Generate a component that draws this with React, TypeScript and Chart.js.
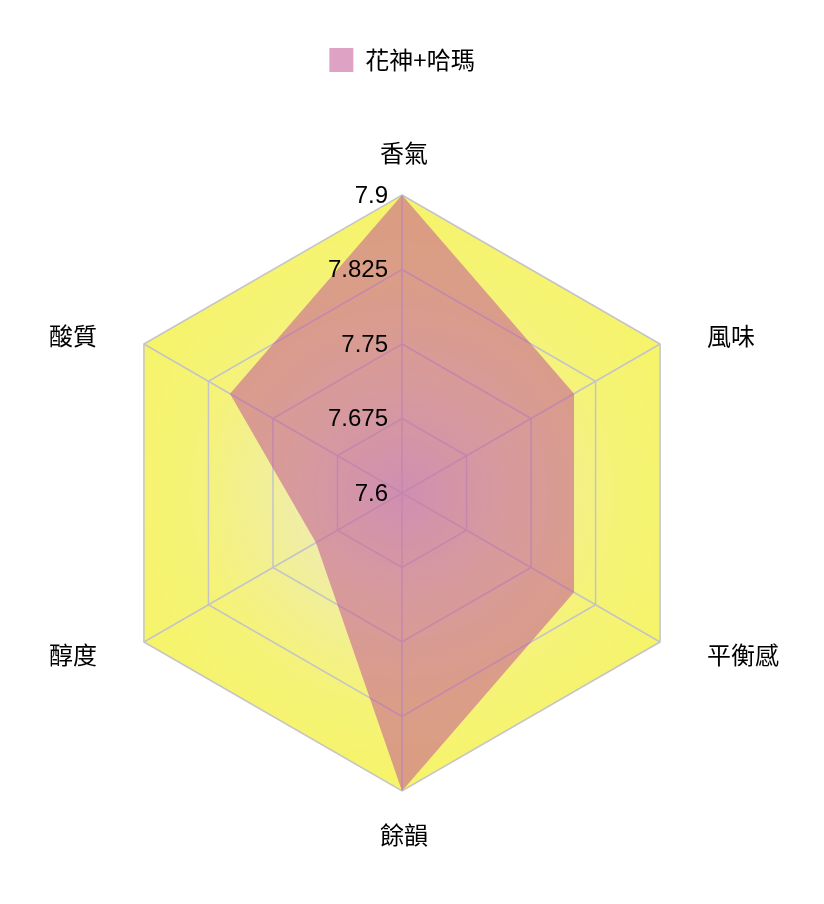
import React, { useEffect, useRef } from "react";
import { Chart, registerables } from "chart.js";

Chart.register(...registerables);

const categories = ["香氣", "風味", "平衡感", "餘韻", "醇度", "酸質"];
const seriesName = "花神+哈瑪";
const seriesValues = [7.9, 7.8, 7.8, 7.9, 7.7, 7.8];
const tickValues = [7.6, 7.675, 7.75, 7.825, 7.9];
const tickLabels = ["7.6", "7.675", "7.75", "7.825", "7.9"];

const FONT = '"Liberation Sans", Arial, Helvetica, "Noto Sans CJK TC", sans-serif';
const CJK_FONT = '"Noto Sans CJK TC", "Liberation Sans", sans-serif';

const legendSpacer = {
  id: "legendSpacer",
  beforeLayout(chart: any) {
    const legend = chart.legend;
    if (legend && !legend.__spaced) {
      const orig = legend.fit;
      legend.fit = function () {
        orig.call(this);
        this.height += 113;
      };
      legend.__spaced = true;
    }
  },
};

const radarBackground = {
  id: "radarBackground",
  beforeDraw(chart: any) {
    const s = chart.scales.r;
    if (!s) return;
    const ctx = chart.ctx;
    const n = chart.data.labels.length;
    ctx.save();
    ctx.beginPath();
    for (let i = 0; i < n; i++) {
      const p = s.getPointPosition(i, s.drawingArea);
      if (i === 0) ctx.moveTo(p.x, p.y);
      else ctx.lineTo(p.x, p.y);
    }
    ctx.closePath();
    const g = ctx.createRadialGradient(s.xCenter, s.yCenter, 0, s.xCenter, s.yCenter, s.drawingArea);
    g.addColorStop(0, "rgb(224,212,212)");
    g.addColorStop(0.35, "rgb(240,237,166)");
    g.addColorStop(0.7, "rgb(245,243,120)");
    g.addColorStop(1, "rgb(246,244,104)");
    ctx.fillStyle = g;
    ctx.fill();
    ctx.restore();
  },
};

const tickLabelPlugin = {
  id: "tickLabelPlugin",
  afterDatasetsDraw(chart: any) {
    const s = chart.scales.r;
    if (!s) return;
    const ctx = chart.ctx;
    ctx.save();
    ctx.font = `24px ${FONT}`;
    ctx.fillStyle = "#000";
    ctx.textAlign = "right";
    ctx.textBaseline = "middle";
    tickValues.forEach((v, i) => {
      const d = s.getDistanceFromCenterForValue(v);
      ctx.fillText(tickLabels[i], s.xCenter - 14, s.yCenter - d + 1);
    });
    ctx.restore();
  },
};

const pointLabelPlugin = {
  id: "pointLabelPlugin",
  afterDraw(chart: any) {
    const s = chart.scales.r;
    if (!s) return;
    const ctx = chart.ctx;
    ctx.save();
    ctx.font = `24px ${CJK_FONT}`;
    ctx.fillStyle = "#000";
    ctx.textBaseline = "middle";
    categories.forEach((label, i) => {
      const p = s.getPointPosition(i, s.drawingArea);
      const dx = p.x - s.xCenter;
      const up = p.y < s.yCenter;
      if (Math.abs(dx) < 1) {
        ctx.textAlign = "center";
        ctx.fillText(label, p.x + 2, p.y + (up ? -42 : 44));
      } else {
        ctx.textAlign = dx > 0 ? "left" : "right";
        ctx.fillText(label, p.x + (dx > 0 ? 47 : -47), p.y + (up ? -8 : 13));
      }
    });
    ctx.restore();
  },
};

export default function App() {
  const ref = useRef<HTMLCanvasElement | null>(null);

  useEffect(() => {
    if (!ref.current) return;
    const chart = new Chart(ref.current, {
      type: "radar",
      data: {
        labels: categories,
        datasets: [
          {
            label: seriesName,
            data: seriesValues,
            fill: true,
            backgroundColor: "rgba(195,85,150,0.55)",
            borderColor: "rgba(195,85,150,0.55)",
            borderWidth: 0,
            pointRadius: 0,
            pointHoverRadius: 0,
          },
        ],
      },
      options: {
        responsive: false,
        animation: false,
        layout: { padding: { top: 30, left: 0, right: 0, bottom: 87 } },
        plugins: {
          legend: {
            display: true,
            position: "top",
            labels: {
              boxWidth: 24,
              boxHeight: 24,
              padding: 10,
              color: "#000",
              font: { size: 24, family: CJK_FONT },
            },
          },
          tooltip: { enabled: false },
        },
        scales: {
          r: {
            min: tickValues[0],
            max: tickValues[tickValues.length - 1],
            ticks: { display: false, count: tickValues.length },
            pointLabels: { display: false },
            grid: { color: "#c4c4c8", lineWidth: 1.5 },
            angleLines: { color: "#c4c4c8", lineWidth: 1.5 },
          },
        },
      },
      plugins: [legendSpacer, radarBackground, tickLabelPlugin, pointLabelPlugin],
    } as any);
    return () => chart.destroy();
  }, []);

  return (
    <div style={{ width: 788, height: 870 }}>
      <canvas ref={ref} width={788} height={870} style={{ display: "block" }} />
    </div>
  );
}
